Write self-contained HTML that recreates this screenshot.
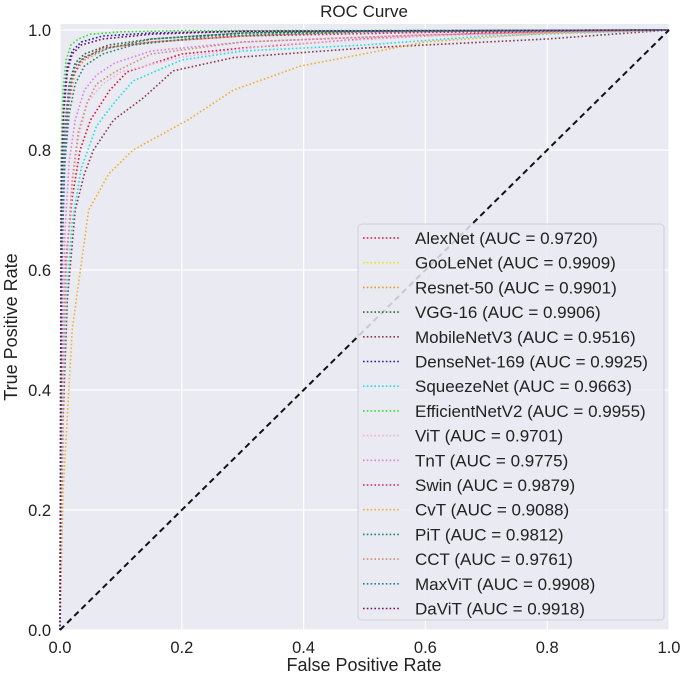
<!DOCTYPE html>
<html><head><meta charset="utf-8"><style>
body{margin:0;background:#fff;}
svg{display:block;font-family:"Liberation Sans",sans-serif;}
</style></head><body>
<svg id="chart" width="688" height="678">
<rect x="60" y="24" width="609" height="606" fill="#eaeaf2"/>
<g id="grid"></g>
<g id="curves"></g>
<g id="ticks"></g>
<text x="364" y="17" text-anchor="middle" font-size="17" fill="#222">ROC Curve</text>
<text x="364" y="671" text-anchor="middle" font-size="18" fill="#222">False Positive Rate</text>
<text x="17" y="327" text-anchor="middle" font-size="18" fill="#222" transform="rotate(-90 17 327)">True Positive Rate</text>
<g id="legend"></g>
</svg>
<script>
const xTicks=[0,0.2,0.4,0.6,0.8,1.0];
const yTicks=[0,0.2,0.4,0.6,0.8,1.0];
const names=["AlexNet","GooLeNet","Resnet-50","VGG-16","MobileNetV3","DenseNet-169","SqueezeNet","EfficientNetV2","ViT","TnT","Swin","CvT","PiT","CCT","MaxViT","DaViT"];
const aucs=["0.9720","0.9909","0.9901","0.9906","0.9516","0.9925","0.9663","0.9955","0.9701","0.9775","0.9879","0.9088","0.9812","0.9761","0.9908","0.9918"];
const colors=["#dc143c","#e8e800","#e0a020","#2e6b2e","#8b3a4a","#2020a0","#20e0e0","#30e030","#f0b0d8","#e080e0","#d0207a","#f0b030","#208080","#d09070","#2a7a9a","#701060"];
const fprs=[
[0,0.005,0.01,0.02,0.033,0.05,0.082,0.11,0.2,0.3,0.5,0.7,1],
[0,0.003,0.008,0.015,0.025,0.04,0.08,0.15,0.3,0.5,1],
[0,0.003,0.008,0.015,0.025,0.04,0.08,0.15,0.3,0.5,1],
[0,0.003,0.008,0.015,0.025,0.04,0.08,0.15,0.3,0.5,1],
[0,0.005,0.012,0.025,0.04,0.055,0.088,0.137,0.186,0.285,0.5,0.8,1],
[0,0.002,0.006,0.012,0.02,0.035,0.07,0.15,0.3,1],
[0,0.005,0.01,0.02,0.035,0.06,0.09,0.12,0.2,0.3,0.5,0.7,1],
[0,0.002,0.005,0.01,0.018,0.03,0.05,0.1,0.2,1],
[0,0.005,0.01,0.02,0.03,0.045,0.07,0.1,0.2,0.35,0.6,1],
[0,0.004,0.008,0.015,0.025,0.04,0.06,0.09,0.15,0.3,0.6,1],
[0,0.003,0.007,0.013,0.02,0.035,0.07,0.15,0.3,0.6,1],
[0,0.005,0.02,0.047,0.08,0.12,0.21,0.285,0.395,0.6,0.8,1],
[0,0.003,0.008,0.015,0.025,0.04,0.07,0.12,0.25,0.5,1],
[0,0.005,0.01,0.02,0.03,0.045,0.06,0.09,0.15,0.3,0.6,1],
[0,0.003,0.008,0.015,0.025,0.04,0.08,0.15,0.3,0.5,1],
[0,0.002,0.006,0.012,0.02,0.035,0.07,0.15,0.3,1]];
const tprs=[
[0,0.45,0.62,0.72,0.8,0.85,0.9,0.93,0.96,0.97,0.985,0.995,1],
[0,0.7,0.82,0.9,0.94,0.955,0.97,0.985,0.995,0.998,1],
[0,0.65,0.8,0.88,0.93,0.95,0.97,0.98,0.99,0.997,1],
[0,0.72,0.84,0.91,0.945,0.96,0.975,0.985,0.995,0.998,1],
[0,0.35,0.55,0.7,0.76,0.8,0.85,0.887,0.932,0.954,0.97,0.985,1],
[0,0.78,0.88,0.94,0.965,0.98,0.99,0.995,0.998,1],
[0,0.4,0.55,0.68,0.77,0.84,0.88,0.915,0.95,0.965,0.975,0.99,1],
[0,0.8,0.9,0.95,0.975,0.985,0.993,0.997,0.999,1],
[0,0.45,0.6,0.74,0.82,0.88,0.91,0.93,0.955,0.975,0.99,1],
[0,0.5,0.66,0.78,0.85,0.9,0.925,0.945,0.965,0.98,0.992,1],
[0,0.6,0.76,0.87,0.92,0.95,0.97,0.98,0.99,0.996,1],
[0,0.23,0.5,0.7,0.76,0.8,0.85,0.9,0.94,0.98,0.995,1],
[0,0.62,0.78,0.86,0.91,0.94,0.96,0.975,0.99,0.997,1],
[0,0.42,0.6,0.75,0.83,0.88,0.91,0.93,0.96,0.98,0.992,1],
[0,0.7,0.83,0.9,0.94,0.955,0.97,0.985,0.995,0.998,1],
[0,0.74,0.86,0.93,0.96,0.975,0.985,0.993,0.998,1]];
const NS="http://www.w3.org/2000/svg";
const sx=v=>60+v*609, sy=v=>630-v*600;
function mk(t,p,a){const e=document.createElementNS(NS,t);for(const k in a)e.setAttribute(k,a[k]);p.appendChild(e);return e;}
const grid=document.getElementById('grid'),ticks=document.getElementById('ticks');
xTicks.forEach(v=>{
 const l=mk('line',grid,{x1:sx(v),x2:sx(v),y1:24,y2:630,stroke:'#fff','stroke-width':1.2});
 
 
 const t=mk('text',ticks,{x:sx(v),y:653,'text-anchor':'middle','font-size':16.5,fill:'#222'});t.textContent=v.toFixed(1);
 
 
});
yTicks.forEach(v=>{
 const l=mk('line',grid,{x1:60,x2:669,y1:sy(v),y2:sy(v),stroke:'#fff','stroke-width':1.2});
 
 
 const t=mk('text',ticks,{x:51,y:sy(v)+6,'text-anchor':'end','font-size':16.5,fill:'#222'});t.textContent=v.toFixed(1);
 
 
});
const cg=document.getElementById('curves');
names.forEach((n,i)=>{
 const pts=fprs[i].map((f,j)=>sx(f)+','+sy(tprs[i][j])).join(' ');
 const p=mk('polyline',cg,{points:pts,fill:'none',stroke:colors[i],'stroke-width':1.6,'stroke-dasharray':'1.6 2.2'});
 
 
});
const d=mk('line',cg,{x1:sx(0),y1:sy(0),x2:sx(1),y2:sy(1),stroke:'#111','stroke-width':2,'stroke-dasharray':'6 4'});


const lg=document.getElementById('legend');
const box=mk('rect',lg,{x:358,y:224,width:306,height:396,rx:4,fill:'#eaeaf2','fill-opacity':0.85,stroke:'#d0d0d8'});


names.forEach((n,i)=>{
 const y=238+i*24.7;
 const l=mk('line',lg,{x1:363,x2:400,y1:y,y2:y,stroke:colors[i],'stroke-width':1.6,'stroke-dasharray':'1.6 2.2'});
 
 
 const t=mk('text',lg,{x:415,y:y+6,'font-size':17,fill:'#222'});t.textContent=n+' (AUC = '+aucs[i]+')';
 
 
});
</script>
</body></html>
